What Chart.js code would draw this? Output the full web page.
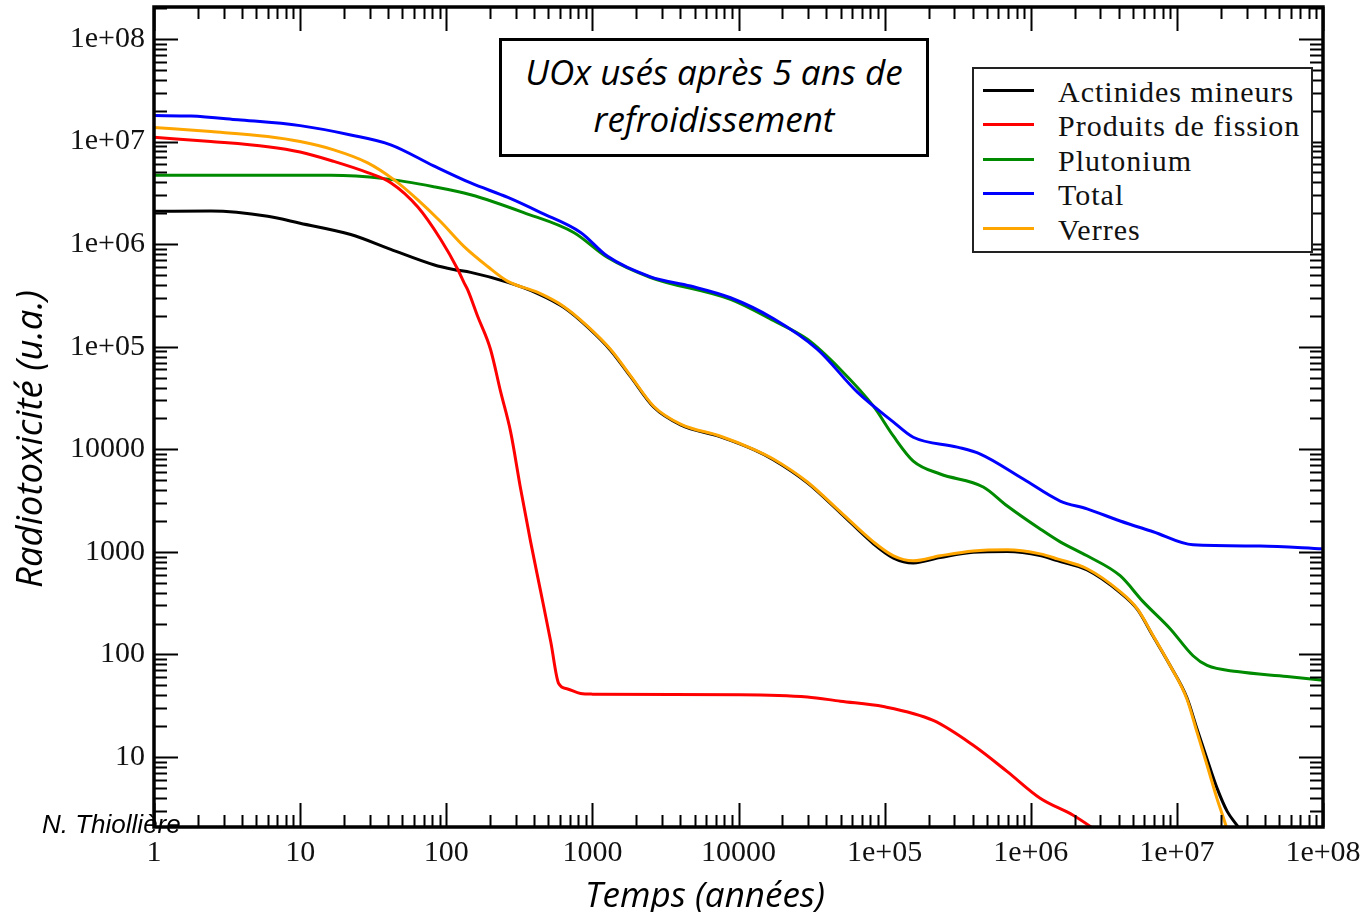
<!DOCTYPE html>
<html>
<head>
<meta charset="utf-8">
<script src="https://cdn.jsdelivr.net/npm/chart.js@4.4.0/dist/chart.umd.min.js"></script>
<style>
  body { margin: 0; background: #fff; }
  #wrap { position: relative; width: 1368px; height: 912px; overflow: hidden; }
  #chart { position: absolute; left: 0; top: 0; }
  .note {
    position: absolute; left: 499px; top: 38px; width: 430px; height: 119px;
    box-sizing: border-box; border: 3px solid #000; background: #fff;
    font: italic 35px "Open Sans", sans-serif; line-height: 47px; text-align: center;
    padding-top: 7px; color: #000; white-space: nowrap;
  }
  .legend {
    position: absolute; left: 972px; top: 67px; width: 341px; height: 186px;
    box-sizing: border-box; border: 2px solid #222; background: #fff;
  }
  .legend .row { position: absolute; left: 0; width: 337px; height: 34px; }
  .legend .swatch { position: absolute; left: 9px; width: 51px; height: 3px; top: 14px; }
  .legend .txt {
    position: absolute; left: 84px; top: 0; line-height: 34px; white-space: nowrap;
    font: 30px "Liberation Serif", serif; letter-spacing: 1px; color: #111;
  }
  .xtitle {
    position: absolute; left: 455px; top: 870px; width: 500px; line-height: 46px;
    text-align: center; font: italic 35px "Open Sans", sans-serif; color: #000;
  }
  .ytitle {
    position: absolute; left: -222px; top: 414px; width: 500px; line-height: 46px;
    text-align: center; font: italic 36.5px "Open Sans", sans-serif; color: #000;
    transform: rotate(-90deg); white-space: nowrap;
  }
  .credit {
    position: absolute; left: 42px; top: 809px; line-height: 30px;
    font: italic 26px "Liberation Sans", sans-serif; color: #000;
  }
</style>
</head>
<body>
<div id="wrap">
  <canvas id="chart" width="1368" height="912"></canvas>
  <div class="note">UOx usés après 5 ans de<br>refroidissement</div>
  <div class="legend" id="legend"></div>
  <div class="ytitle">Radiotoxicité (u.a.)</div>
  <div class="xtitle">Temps (années)</div>
  <div class="credit">N. Thiollière</div>
</div>
<script>
// time in years (x) and radiotoxicity (y)
const amT = [1, 2.45, 6, 10, 22.2, 41.7, 82, 112, 147, 264, 423, 636, 929, 1334, 1827, 2624, 4013, 7530, 12700, 17300, 29600, 49800, 83800, 115000, 157000, 240000, 404000, 691000, 1160000, 1520000, 2430000, 4090000, 5350000, 6880000, 8990000, 11700000, 13700000, 16100000, 18800000, 22100000, 25800000, 28000000]
const amV = [2.09e6, 2.1e6, 1.87e6, 1.6e6, 1.24e6, 8.9e5, 6.3e5, 5.66e5, 5.3e5, 4.24e5, 3.3e5, 2.42e5, 1.55e5, 9.2e4, 5.1e4, 2.58e4, 1.73e4, 1.32e4, 9900, 7900, 4700, 2400, 1200, 870, 780, 880, 990, 1005, 920, 820, 665, 400, 276, 150, 78, 38, 19, 9.5, 5, 2.95, 2.15, 1.8]

const pfT = [1, 2.45, 6, 10, 17, 29, 41.7, 63.9, 91.7, 120, 132, 140, 164, 201, 236, 276, 323, 378, 443, 519, 588, 677, 831, 1000, 10300, 29600, 49800, 98000, 215000, 404000, 691000, 1160000, 1950000, 3000000]
const pfV = [1.1e7, 1.0e7, 8.9e6, 7.9e6, 6.4e6, 4.97e6, 3.97e6, 2.3e6, 1.11e6, 5.66e5, 4.24e5, 3.6e5, 1.98e5, 9.4e4, 3.6e4, 1.47e4, 4100, 1250, 409, 133, 52, 46, 41.6, 41, 40.5, 38.5, 35, 31, 22.7, 13, 7.2, 3.96, 2.7, 1.8]

const puT = [1, 16.2, 37.4, 82, 147, 339, 745, 1271, 2500, 8815, 17300, 29600, 49800, 83800, 115000, 157000, 240000, 473000, 691000, 1160000, 1590000, 2430000, 4090000, 5870000, 8990000, 12900000, 16100000, 25800000, 56700000, 100000000]
const puV = [4.68e6, 4.68e6, 4.35e6, 3.63e6, 3.03e6, 2.03e6, 1.3e6, 7.4e5, 4.73e5, 2.89e5, 1.8e5, 1.18e5, 6.0e4, 2.63e4, 1.34e4, 7680, 5740, 4290, 2800, 1670, 1250, 915, 585, 327, 178, 97, 78, 68, 61, 56]

const totT = [1, 1.79, 3.75, 10, 22.2, 41.7, 82, 147, 264, 443, 831, 1271, 2500, 4695, 8815, 17300, 34700, 65100, 115000, 157000, 314000, 452000, 889000, 1590000, 2430000, 4090000, 6880000, 12900000, 37100000, 100000000]
const totV = [1.79e7, 1.77e7, 1.63e7, 1.43e7, 1.16e7, 9.3e6, 5.8e6, 3.95e6, 2.85e6, 2.03e6, 1.3e6, 7.6e5, 4.8e5, 3.9e5, 3.0e5, 1.88e5, 9.4e4, 3.6e4, 1.84e4, 1.31e4, 1.05e4, 8980, 5130, 3130, 2620, 2000, 1570, 1170, 1140, 1070]

const verT = [1, 2.45, 6, 10, 17, 29, 43.8, 63.9, 91.7, 132, 192, 264, 423, 636, 929, 1334, 1827, 2624, 4013, 7530, 12700, 17300, 29600, 49800, 83800, 115000, 157000, 240000, 404000, 691000, 1160000, 1520000, 2430000, 4090000, 5350000, 6880000, 8990000, 11700000, 13700000, 16100000, 18800000, 21400000, 23000000]
const verV = [1.37e7, 1.25e7, 1.12e7, 1.0e7, 8.3e6, 6.2e6, 4.25e6, 2.7e6, 1.65e6, 9.5e5, 6.05e5, 4.33e5, 3.38e5, 2.47e5, 1.58e5, 9.4e4, 5.2e4, 2.63e4, 1.76e4, 1.34e4, 1.0e4, 8040, 4800, 2450, 1250, 914, 817, 914, 1020, 1046, 955, 855, 684, 409, 279, 152, 78, 37, 17.7, 8.3, 3.95, 2.26, 1.6]

const seriesLabels = ['Actinides mineurs', 'Produits de fission', 'Plutonium', 'Total', 'Verres']
const seriesColors = ['#000000', '#ff0000', '#008a00', '#0000ff', '#ffa500']

const xTickValues = [1, 10, 100, 1000, 10000, 1e5, 1e6, 1e7, 1e8]
const xTickLabels = ['1', '10', '100', '1000', '10000', '1e+05', '1e+06', '1e+07', '1e+08']
const yTickValues = [10, 100, 1000, 10000, 1e5, 1e6, 1e7, 1e8]
const yTickLabels = ['10', '100', '1000', '10000', '1e+05', '1e+06', '1e+07', '1e+08']

function pts(ts, vs)
{
    return ts.map((t, i) => ({ x: t, y: vs[i] }))
}

const seriesData = [pts(amT, amV), pts(pfT, pfV), pts(puT, puV), pts(totT, totV), pts(verT, verV)]
const drawOrder = [4, 2, 3, 1, 0]

// frame round the plot plus log ticks on the four sides, inward
const frameTicks = {
    id: 'frameTicks',
    afterDatasetsDraw(chart) {
        const { ctx, chartArea: a, scales: { x, y } } = chart
        ctx.save()
        ctx.strokeStyle = '#000'
        ctx.lineWidth = 2
        ctx.beginPath()
        for (let e = 0; e <= 8; e++) {
            for (let m = 1; m <= 9; m++) {
                const v = m * Math.pow(10, e)
                if (v >= x.min && v <= x.max) {
                    const px = Math.round(x.getPixelForValue(v)) + 0.5
                    const len = m === 1 ? 24 : 12
                    ctx.moveTo(px, a.bottom); ctx.lineTo(px, a.bottom - len)
                    ctx.moveTo(px, a.top); ctx.lineTo(px, a.top + len)
                }
                if (v >= y.min && v <= y.max) {
                    const py = Math.round(y.getPixelForValue(v)) + 0.5
                    const len = m === 1 ? 24 : 13
                    ctx.moveTo(a.left, py); ctx.lineTo(a.left + len, py)
                    ctx.moveTo(a.right, py); ctx.lineTo(a.right - len, py)
                }
            }
        }
        ctx.stroke()
        ctx.lineWidth = 3.5
        ctx.strokeRect(a.left, a.top, a.width, a.height)
        ctx.restore()
    }
}

function noPad(s)
{
    s.paddingTop = 0
    s.paddingBottom = 0
    s.paddingLeft = 0
    s.paddingRight = 0
}

const tickFont = { family: '"Liberation Serif", serif', size: 30 }

const chart = new Chart(document.getElementById('chart'), {
    type: 'line',
    data: {
        datasets: seriesLabels.map((label, i) => ({
            label: label,
            data: seriesData[i],
            borderColor: seriesColors[i],
            backgroundColor: seriesColors[i],
            borderWidth: 3,
            pointRadius: 0,
            fill: false,
            cubicInterpolationMode: 'monotone',
            order: drawOrder[i]
        }))
    },
    options: {
        responsive: false,
        animation: false,
        layout: { autoPadding: false, padding: { top: 7, right: 45, left: 0, bottom: 0 } },
        plugins: { legend: { display: false }, tooltip: { enabled: false } },
        scales: {
            x: {
                type: 'logarithmic',
                min: 1,
                max: 1e8,
                grid: { display: false, drawTicks: false },
                border: { display: false },
                afterBuildTicks: s => { s.ticks = xTickValues.map(v => ({ value: v })) },
                afterFit: s => { s.height = 85; noPad(s) },
                ticks: {
                    autoSkip: false, maxRotation: 0, padding: 8, color: '#111', font: tickFont,
                    callback: (v, i) => xTickLabels[i]
                }
            },
            y: {
                type: 'logarithmic',
                min: 2.077,
                max: 2.05e8,
                grid: { display: false, drawTicks: false },
                border: { display: false },
                afterBuildTicks: s => { s.ticks = yTickValues.map(v => ({ value: v })) },
                afterFit: s => { s.width = 154; noPad(s) },
                ticks: {
                    autoSkip: false, padding: 9, color: '#111', font: tickFont,
                    callback: (v, i) => yTickLabels[i]
                }
            }
        }
    },
    plugins: [frameTicks]
})

// legend box built from the datasets
const legendBox = document.getElementById('legend')
chart.data.datasets.forEach((ds, i) => {
    const row = document.createElement('div')
    row.className = 'row'
    row.style.top = (5.6 + i * 34.6) + 'px'
    const sw = document.createElement('div')
    sw.className = 'swatch'
    sw.style.background = ds.borderColor
    const tx = document.createElement('div')
    tx.className = 'txt'
    tx.textContent = ds.label
    row.appendChild(sw)
    row.appendChild(tx)
    legendBox.appendChild(row)
})
</script>
</body>
</html>
